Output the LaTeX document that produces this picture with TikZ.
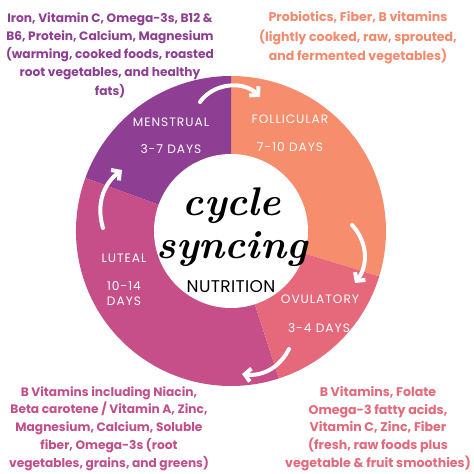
\documentclass[tikz,border=0pt]{standalone}
\usepackage{fontspec}
\setmainfont{Poppins}
\newfontfamily\ringfont[LetterSpace=8]{Poppins}
\newfontfamily\hubfont[LetterSpace=2]{Poppins}
\newfontfamily\titlefont{Latin Modern Roman}
\usepackage{tikz}
\usetikzlibrary{arrows.meta}

\definecolor{menscol}{HTML}{8E3F94}
\definecolor{follcol}{HTML}{F68D6C}
\definecolor{ovulcol}{HTML}{E6697B}
\definecolor{lutecol}{HTML}{C64F89}
\definecolor{follink}{HTML}{F28B6E}
\definecolor{luteink}{HTML}{C24E8A}
\definecolor{ovulink}{HTML}{E26A7B}

\begin{document}
\begin{tikzpicture}[x=1pt,y=1pt]
    \tikzstyle{phase}=[text=white,font=\ringfont\fontsize{12.2}{13}\selectfont,inner sep=0pt]
    \tikzstyle{food}=[align=center,inner sep=0pt,font=\bfseries\fontsize{12.2}{18.3}\selectfont]
    \tikzstyle{cyclearrow}=[draw=white,line width=4pt,line cap=round,-{Straight Barb[length=6pt,width=13pt]}]
    \tikzstyle{title}=[anchor=base,inner sep=0pt,font=\titlefont\bfseries\itshape\fontsize{40}{40}\selectfont]

    \useasboundingbox (0,0) rectangle (474,474);
    \coordinate (c) at (231,243);

    % ring
    \fill[follcol] (c) -- ++(-17:155) arc[start angle=-17,end angle=90,radius=155] -- cycle;
    \fill[menscol] (c) -- ++(90:155) arc[start angle=90,end angle=160,radius=155] -- cycle;
    \fill[lutecol] (c) -- ++(160:155) arc[start angle=160,end angle=288,radius=155] -- cycle;
    \fill[ovulcol] (c) -- ++(288:155) arc[start angle=288,end angle=343,radius=155] -- cycle;
    \node[circle,fill=white,minimum size=154pt,inner sep=0pt] (hub) at (c) {};

    \node[phase] (mens) at (171,352) {MENSTRUAL};
    \node[phase] (mensdays) at (171,325) {3-7 DAYS};
    \node[phase] (foll) at (290,355) {FOLLICULAR};
    \node[phase] (folldays) at (290,327) {7-10 DAYS};
    \node[phase] (ovul) at (320,175) {OVULATORY};
    \node[phase] (ovuldays) at (319,146) {3-4 DAYS};
    \node[phase] (lute) at (124,216) {LUTEAL};
    \node[phase] (lutedays) at (124,188) {10-14};
    \node[phase] (lutedays2) at (124,173) {DAYS};

    \node[title] (cyc) at (232,258) {cycle};
    \node[title] (sync) at (232,215) {syncing};
    \node[font=\hubfont\fontsize{17}{17}\selectfont,inner sep=0pt] (nutri) at (231,187) {NUTRITION};

    % arrows round the ring
    \coordinate (t1) at (200,372); \coordinate (t2) at (260,377);
    \coordinate (r1) at (352,249); \coordinate (r2) at (355,191);
    \coordinate (b1) at (289,125); \coordinate (b2) at (242,100);
    \coordinate (l1) at (103,246); \coordinate (l2) at (122,304);
    \path[cyclearrow] (t1) to[bend left=50] (t2);
    \path[cyclearrow] (r1) to[bend left=40] (r2);
    \path[cyclearrow] (b1) to[bend left=35] (b2);
    \path[cyclearrow] (l1) to[bend left=35] (l2);

    % foods
    \node[food,text=menscol] (mensfood) at (110,419) {Iron, Vitamin C, Omega-3s, B12 \&\\B6, Protein, Calcium, Magnesium\\(warming, cooked foods, roasted\\root vegetables, and healthy\\fats)};
    \node[food,text=follink,font=\bfseries\fontsize{12.6}{19.5}\selectfont] (follfood) at (358,436) {Probiotics, Fiber, B vitamins\\(lightly cooked, raw, sprouted,\\and fermented vegetables)};
    \node[food,text=luteink,font=\bfseries\fontsize{12.2}{17.8}\selectfont] (lutefood) at (109,45.5) {B Vitamins including Niacin,\\Beta carotene / Vitamin A, Zinc,\\Magnesium, Calcium, Soluble\\fiber, Omega-3s (root\\vegetables, grains, and greens)};
    \node[food,text=ovulink,font=\bfseries\fontsize{12.6}{17.7}\selectfont] (ovulfood) at (378,45.5) {B Vitamins, Folate\\Omega-3 fatty acids,\\Vitamin C, Zinc, Fiber\\(fresh, raw foods plus\\vegetable \& fruit smoothies)};
\end{tikzpicture}
\end{document}
